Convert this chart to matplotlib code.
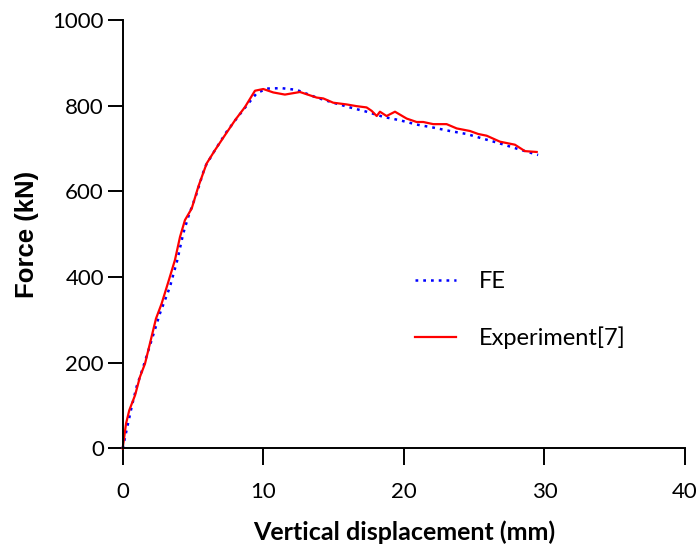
import matplotlib
matplotlib.use("Agg")
import matplotlib.pyplot as plt

exp_x = [0, 0.24, 0.47, 0.88, 1.23, 1.59, 1.94, 2.37, 2.77, 3.25, 3.72, 4.08, 4.43,
         4.91, 5.38, 5.97, 6.56, 7.27, 7.99, 8.70, 9.41, 10.0, 10.71, 11.54, 12.61,
         13.8, 14.27, 14.98, 15.93, 16.64, 17.35, 17.71, 18.07, 18.3, 18.77, 19.37,
         20.2, 20.91, 21.38, 22.09, 23.04, 23.76, 24.7, 25.29, 25.89, 26.84, 27.9,
         28.61, 29.45]
exp_y = [0, 58, 89, 124, 167, 198, 245, 303, 338, 389, 440, 494, 533,
         560, 611, 665, 696, 731, 766, 797, 835, 839, 831, 826, 832,
         819, 817, 807, 803, 799, 796, 788, 776, 786, 776, 786,
         770, 762, 762, 757, 757, 747, 741, 734, 730, 716, 709,
         694, 692]

# finite element curve (blue dotted)
fe_x = [0, 0.28, 0.64, 0.99, 1.47, 2.06, 2.65, 3.36, 3.89, 4.31, 4.67, 5.26, 5.85,
        6.56, 7.39, 8.1, 8.93, 9.53, 10.24, 11.3, 12.37, 13.8, 14.98, 16.17, 17.35,
        18.54, 19.72, 20.91, 22.09, 23.27, 24.46, 25.64, 26.83, 28.01, 29.55]
fe_y = [0, 43, 97, 144, 191, 253, 315, 377, 440, 502, 541, 595, 657,
        696, 739, 770, 805, 829, 840, 841, 837, 819, 807, 796, 786,
        774, 766, 756, 749, 741, 734, 723, 712, 700, 685]

x_ticks = [0, 10, 20, 30, 40]
y_ticks = [0, 200, 400, 600, 800, 1000]

plt.rcParams['font.family'] = ['Lato', 'DejaVu Sans']

fig = plt.figure(figsize=(6.99, 5.57), dpi=100)
ax = fig.add_axes([0.1755, 0.195, 0.8045, 0.769])

ax.plot(fe_x, fe_y, color='#0000ff', lw=1.8, linestyle=(0, (1.1, 2.0)),
        label='FE', clip_on=False)
ax.plot(exp_x, exp_y, color='#ff0000', lw=1.6, label='Experiment[7]', clip_on=False)

ax.set_xlim(0, 40)
ax.set_ylim(0, 1000)
ax.set_xticks(x_ticks)
ax.set_yticks(y_ticks)

for s in ['top', 'right']:
    ax.spines[s].set_visible(False)
for s in ['left', 'bottom']:
    ax.spines[s].set_linewidth(1.4)

ax.tick_params(axis='x', direction='out', length=12, width=1.4, pad=12, labelsize=16)
ax.tick_params(axis='y', direction='out', length=10.5, width=1.4, pad=3, labelsize=16)

ax.set_xlabel('Vertical displacement (mm)', fontsize=18, fontweight='bold')
ax.set_ylabel('Force (kN)', fontsize=18.5, fontweight='bold',
              family=['Liberation Sans', 'DejaVu Sans'])
ax.xaxis.label.set_va('center')
ax.yaxis.label.set_va('center')
ax.xaxis.set_label_coords(0.5, -0.195)
ax.yaxis.set_label_coords(-0.170, 0.5)

ax.legend(loc='upper left', bbox_to_anchor=(0.52, 0.414), frameon=False,
          fontsize=17, handlelength=1.74, handletextpad=0.97, labelspacing=1.45,
          borderpad=0, borderaxespad=0)

fig.savefig('out.png', dpi=100)
